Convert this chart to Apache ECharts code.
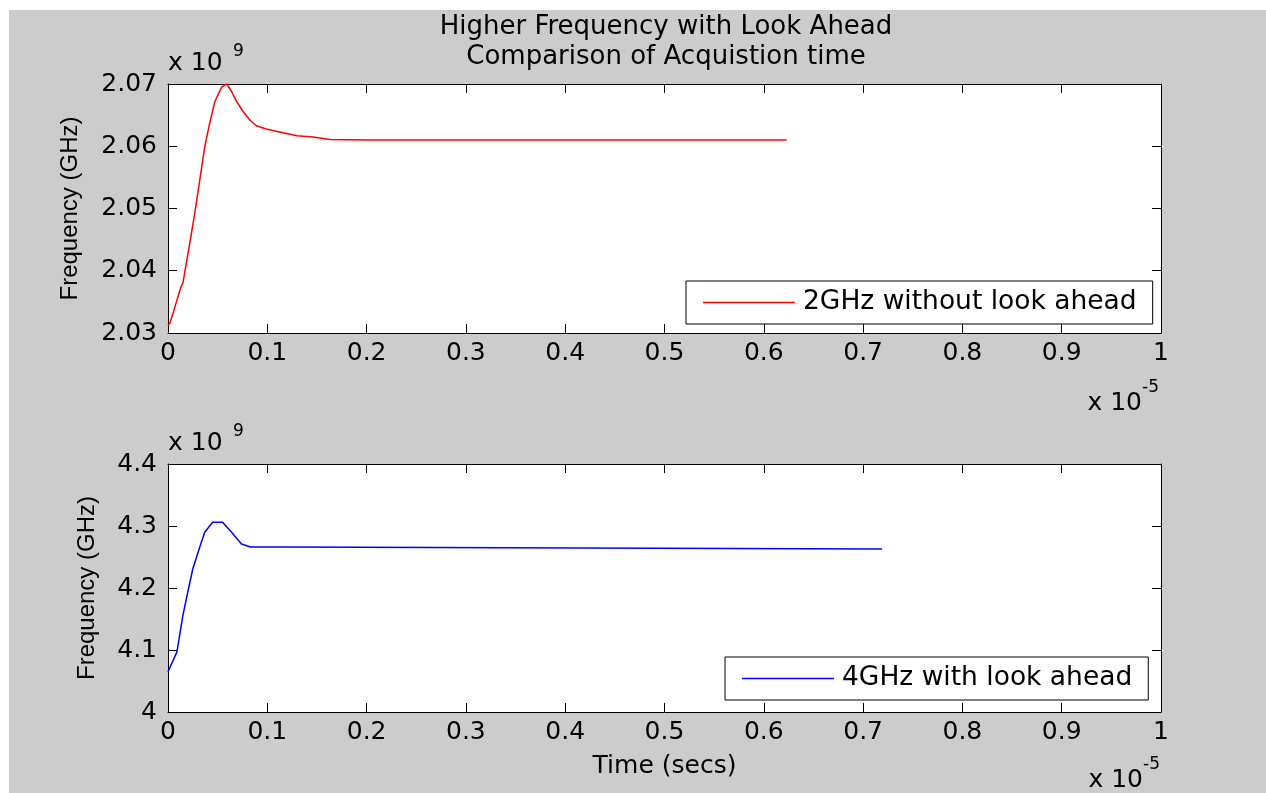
<!DOCTYPE html>
<html>
<head>
    <meta charset="utf-8">
    <title>Higher Frequency with Look Ahead</title>
    <script src="https://cdn.jsdelivr.net/npm/echarts@6/dist/echarts.min.js"></script>
    <style>
        body { margin: 0; background: #fff; }
        #main { position: absolute; left: 9px; top: 10px; width: 1257px; height: 783px; background: #cccccc; }
    </style>
</head>
<body>
    <div id="main"></div>
    <script type="text/javascript">
        // time in units of 1e-5 s, frequency in units of 1e9 Hz
        var nameTop = '2GHz without look ahead';
        var nameBottom = '4GHz with look ahead';

        var timeTop = [0, 0.002, 0.007, 0.013, 0.015, 0.022, 0.027, 0.032, 0.037, 0.042, 0.047, 0.054, 0.059,
            0.064, 0.069, 0.076, 0.083, 0.089, 0.098, 0.109, 0.130, 0.146, 0.163, 0.200, 0.623];
        var freqTop = [2.0312, 2.0316, 2.0342, 2.0374, 2.0380, 2.0445, 2.0493, 2.0546, 2.0599, 2.0637, 2.0671, 2.0695, 2.0700,
            2.0688, 2.0672, 2.0655, 2.0641, 2.0633, 2.0628, 2.0624, 2.0617, 2.0615, 2.0611, 2.0610, 2.0610];

        var timeBottom = [0, 0.009, 0.015, 0.020, 0.025, 0.032, 0.037, 0.045, 0.055, 0.064, 0.074, 0.083,
            0.115, 0.117, 0.719];
        var freqBottom = [4.065, 4.097, 4.156, 4.194, 4.231, 4.266, 4.290, 4.306, 4.306, 4.290, 4.271, 4.266,
            4.266, 4.263, 4.263];

        var font = 'DejaVu Sans';

        function pairs(xs, ys) {
            return xs.map(function (x, i) { return [x, ys[i]]; });
        }

        var myChart = echarts.init(document.getElementById('main'));

        var labelStyle = { color: '#000', fontFamily: font, fontSize: 25 };
        var lineStyle = { color: '#000', width: 1 };

        function xAx(grid, pos, showLabel) {
            return {
                type: 'value', gridIndex: grid, position: pos,
                min: 0, max: 1, interval: 0.1,
                axisLine: { show: true, onZero: false, lineStyle: lineStyle },
                axisTick: { show: true, inside: true, length: 9, lineStyle: lineStyle },
                axisLabel: Object.assign({ show: showLabel, margin: 8 }, labelStyle),
                splitLine: { show: false }
            };
        }

        function yAx(grid, pos, showLabel, min, max, step, digits) {
            return {
                type: 'value', gridIndex: grid, position: pos,
                min: min, max: max, interval: step,
                axisLine: { show: true, onZero: false, lineStyle: lineStyle },
                axisTick: { show: true, inside: true, length: 9, lineStyle: lineStyle },
                axisLabel: Object.assign({
                    show: showLabel, margin: 11,
                    formatter: function (v) {
                        return Math.abs(v - Math.round(v)) < 1e-9 ? String(Math.round(v)) : v.toFixed(digits);
                    }
                }, labelStyle),
                splitLine: { show: false }
            };
        }

        var yTop = yAx(0, 'left', true, 2.03, 2.07, 0.01, 2);
        yTop.name = 'Frequency (GHz)';
        yTop.nameLocation = 'middle';
        yTop.nameGap = 86;
        yTop.nameTextStyle = { color: '#000', fontFamily: 'Liberation Sans', fontSize: 24 };

        var yBot = yAx(1, 'left', true, 4, 4.4, 0.1, 1);
        yBot.name = 'Frequency (GHz)';
        yBot.nameLocation = 'middle';
        yBot.nameGap = 69;
        yBot.nameTextStyle = { color: '#000', fontFamily: 'Liberation Sans', fontSize: 24 };

        var xBot = xAx(1, 'bottom', true);
        xBot.name = 'Time (secs)';
        xBot.nameLocation = 'middle';
        xBot.nameGap = 42;
        xBot.nameTextStyle = { color: '#000', fontFamily: font, fontSize: 25 };

        function legendBox(name, left, top) {
            return {
                data: [name],
                left: left, top: top,
                orient: 'horizontal',
                backgroundColor: '#fff',
                borderColor: '#000', borderWidth: 1, borderRadius: 0,
                padding: [8, 16, 8, 17],
                icon: 'rect',
                itemWidth: 92, itemHeight: 1.5,
                textStyle: { color: '#000', fontFamily: font, fontSize: 26.5, lineHeight: 26, padding: [0, 0, 0, 3] }
            };
        }

        function txt(s, size, pos) {
            return Object.assign({
                type: 'text',
                style: { text: s, fill: '#000', font: size + 'px "DejaVu Sans"' }
            }, pos);
        }

        var option = {
            animation: false,
            backgroundColor: '#cccccc',
            title: {
                text: 'Higher Frequency with Look Ahead\nComparison of Acquistion time',
                left: 652, top: -3,
                textAlign: 'center',
                textStyle: { color: '#000', fontFamily: font, fontSize: 26, fontWeight: 'normal', lineHeight: 30 }
            },
            grid: [
                { left: 159, top: 74, width: 993, height: 249, show: true, backgroundColor: '#fff', borderWidth: 0 },
                { left: 159, top: 454, width: 993, height: 248, show: true, backgroundColor: '#fff', borderWidth: 0 }
            ],
            xAxis: [
                xAx(0, 'bottom', true), xAx(0, 'top', false),
                xBot, xAx(1, 'top', false)
            ],
            yAxis: [
                yTop, yAx(0, 'right', false, 2.03, 2.07, 0.01, 2),
                yBot, yAx(1, 'right', false, 4, 4.4, 0.1, 1)
            ],
            legend: [
                legendBox(nameTop, 677, 271),
                legendBox(nameBottom, 716, 647)
            ],
            graphic: [
                txt('x 10', 25, { left: 159, top: 41 }),
                txt('9', 17, { left: 224, top: 33 }),
                txt('x 10', 25, { left: 159, top: 421 }),
                txt('9', 17, { left: 224, top: 413 }),
                txt('x 10', 25, { right: 124, top: 381 }),
                txt('-5', 17, { left: 1133, top: 369 }),
                txt('x 10', 25, { right: 123, top: 758 }),
                txt('-5', 17, { left: 1134, top: 746 })
            ],
            series: [
                {
                    name: nameTop, type: 'line', xAxisIndex: 0, yAxisIndex: 0,
                    data: pairs(timeTop, freqTop),
                    showSymbol: false, symbol: 'none',
                    lineStyle: { color: '#ff0000', width: 1.5 }, itemStyle: { color: '#ff0000' }
                },
                {
                    name: nameBottom, type: 'line', xAxisIndex: 2, yAxisIndex: 2,
                    data: pairs(timeBottom, freqBottom),
                    showSymbol: false, symbol: 'none',
                    lineStyle: { color: '#0000ff', width: 1.5 }, itemStyle: { color: '#0000ff' }
                }
            ]
        };

        myChart.setOption(option);
    </script>
</body>
</html>
